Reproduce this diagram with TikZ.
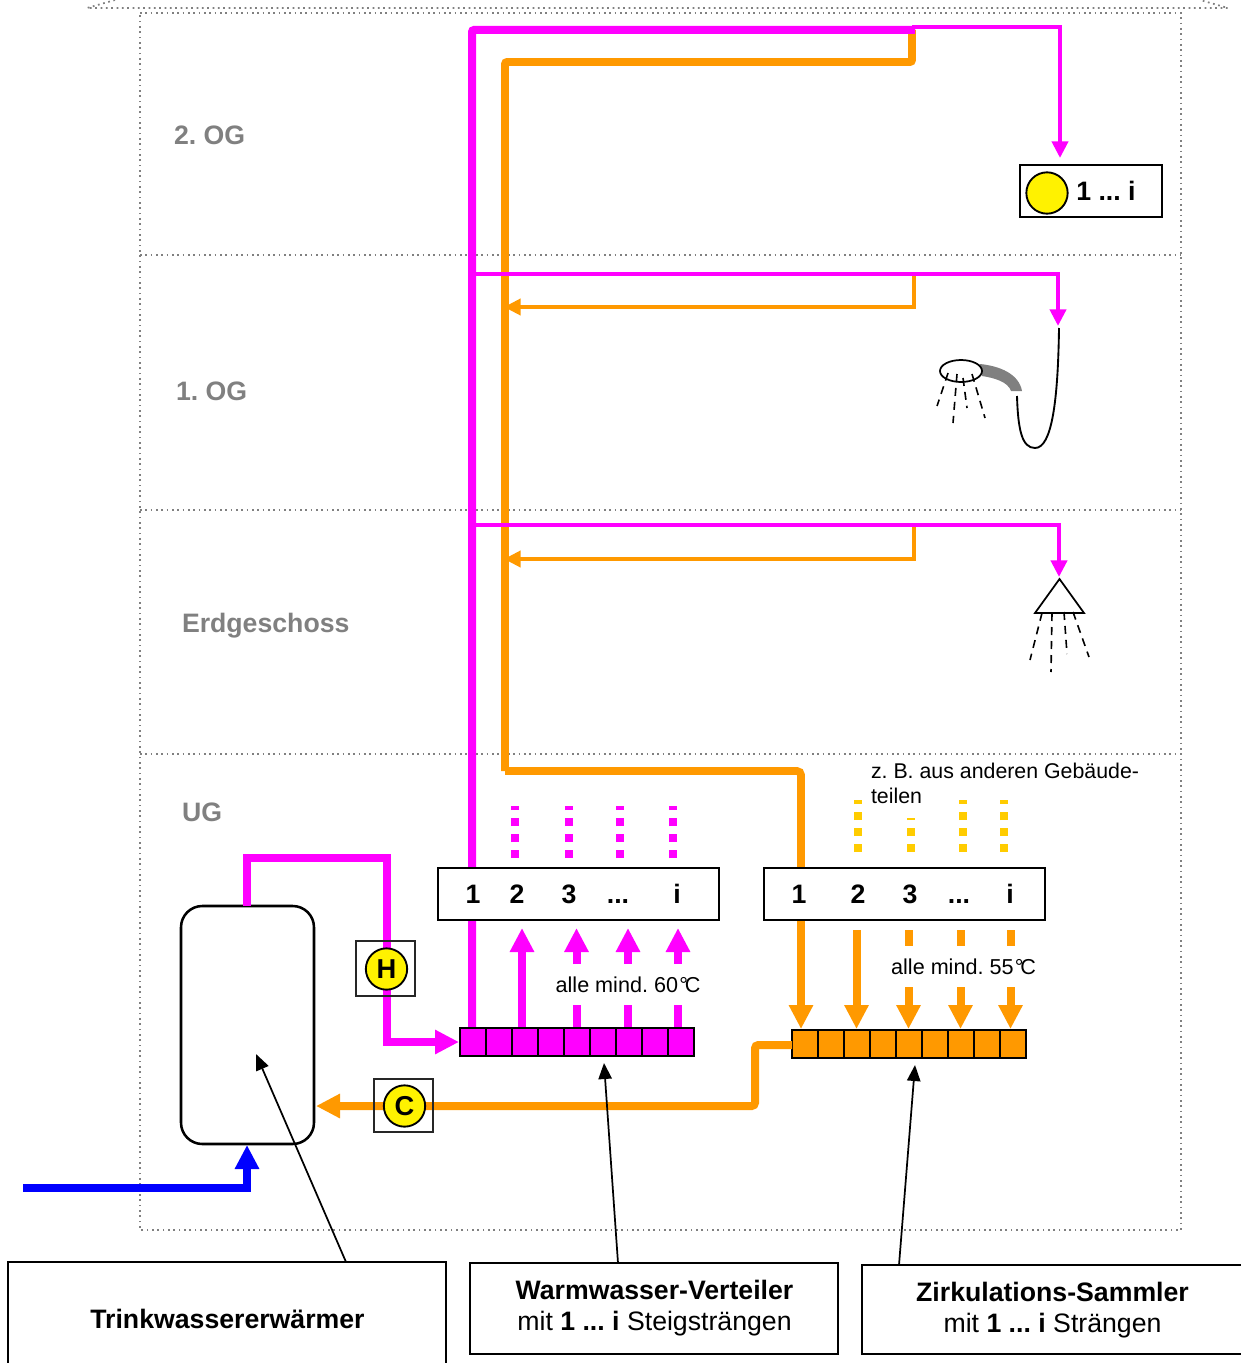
\documentclass[tikz,border=0pt]{standalone}
\usepackage{fontspec}
\setmainfont{Liberation Sans}
\usetikzlibrary{arrows.meta,shapes.geometric}
\definecolor{pipeM}{HTML}{FF00FF}
\definecolor{pipeO}{HTML}{FF9900}
\definecolor{pipeY}{HTML}{FFCC00}
\definecolor{pipeB}{HTML}{0000FF}
\definecolor{floorG}{HTML}{808080}
\frenchspacing
\newcommand{\pxbox}[6]{%
  \pgfmathsetmacro\bw{(#4-#2)*0.75}\pgfmathsetmacro\bh{(#5-#3)*0.75}%
  \pgfmathsetmacro\cx{(#2+#4)/2}\pgfmathsetmacro\cy{(#3+#5)/2}%
  \node[#6,minimum width=\bw pt,minimum height=\bh pt] (#1) at (\cx,\cy) {};}
\newcommand{\threedots}{...}
\tikzset{
  x=0.75pt,y=-0.75pt,
  every node/.style={inner sep=0pt,outer sep=0pt},
  floorline/.style={floorG,line width=1.3pt,dash pattern=on 1.3pt off 2.7pt},
  thickM/.style={pipeM,line width=6pt},
  thickO/.style={pipeO,line width=5.8pt},
  thinM/.style={pipeM,line width=3pt},
  thinO/.style={pipeO,line width=3pt},
  midM/.style={pipeM,line width=6pt},
  midO/.style={pipeO,line width=6pt},
  midB/.style={pipeB,line width=6pt},
  headBig/.style={-{Triangle[length=18pt,width=17.25pt]}},
  headSmall/.style={-{Triangle[length=12.5pt,width=12pt]}},
  dotsM/.style={pipeM,line width=6pt,dash pattern=on 6pt off 6pt},
  dotsY/.style={pipeY,line width=6pt,dash pattern=on 6pt off 6pt},
  frame/.style={draw=black,line width=1.5pt,fill=white,rectangle},
  openbox/.style={draw=black!85,line width=1.3pt,rectangle},
  cellM/.style={draw=black,line width=1.7pt,fill=pipeM,rectangle},
  cellO/.style={draw=black,line width=1.7pt,fill=pipeO,rectangle},
  lamp/.style={circle,draw=black,line width=1.4pt,fill=yellow,minimum size=31pt},
  tank/.style={draw=black,line width=1.9pt,rectangle,rounded corners=16pt},
  pointer/.style={draw=black,line width=1.3pt,-{Triangle[length=12pt,width=10pt]}},
  spray/.style={line width=1.2pt,dash pattern=on 6pt off 4.5pt},
  fixture/.style={draw=black,line width=1.3pt},
  storey/.style={font=\fontsize{20pt}{24pt}\selectfont\bfseries,text=floorG,anchor=base west},
  num/.style={font=\fontsize{20pt}{24pt}\selectfont\bfseries,anchor=base},
  lampfont/.style={font=\fontsize{20.5pt}{24pt}\selectfont\bfseries},
  note/.style={font=\fontsize{16pt}{19pt}\selectfont},
  notew/.style={font=\fontsize{16.2pt}{19pt}\selectfont,fill=white,minimum height=31pt},
  captxt/.style={font=\fontsize{20pt}{24pt}\selectfont,anchor=base},
  capbold/.style={font=\fontsize{20pt}{24pt}\selectfont\bfseries,anchor=base},
}
\begin{document}
\begin{tikzpicture}
\useasboundingbox (0,0) rectangle (1241,1363);
% building outline
\coordinate (roofL0) at (115,0); \coordinate (roofL) at (87,8);
\coordinate (roofR) at (1228,8); \coordinate (roofR0) at (1200,0);
\draw[floorline] (roofL0) -- (roofL) -- (roofR) -- (roofR0);
\coordinate (bTL) at (140,13); \coordinate (bTR) at (1181,13);
\coordinate (bBL) at (140,1230); \coordinate (bBR) at (1181,1230);
\draw[floorline] (bTL) -- (bTR) -- (bBR) -- (bBL) -- cycle;
\foreach \n/\y in {a/255,b/510,c/754}{
  \coordinate (fl\n) at (140,\y); \coordinate (fr\n) at (1181,\y);
  \draw[floorline] (fl\n) -- (fr\n);
}
\node[storey] (og2) at (174,144.5) {2. OG};
\node[storey] (og1) at (176,400.5) {1. OG};
\node[storey] (eg) at (182,632.5) {Erdgeschoss};
\node[storey] (ug) at (182,821.5) {UG};

% main anchors
\coordinate (mTop) at (472,30); \coordinate (mJ) at (915,30);
\coordinate (mBot) at (472,1028);
\coordinate (oTop) at (505,62); \coordinate (oJ) at (912,62);
\coordinate (oJup) at (912,30);
\coordinate (oLow) at (505,771); \coordinate (oR) at (801,771);
\coordinate (oBot) at (801,1029);
% storey branches
\coordinate (t2a) at (912,27.5); \coordinate (t2b) at (1060,27.5); \coordinate (t2c) at (1060,158);
\coordinate (t1a) at (472,273.5); \coordinate (t1b) at (1058,273.5); \coordinate (t1c) at (1058,326);
\coordinate (r1a) at (914,273); \coordinate (r1b) at (914,307); \coordinate (r1c) at (504,307);
\coordinate (t0a) at (472,525); \coordinate (t0b) at (1059,525); \coordinate (t0c) at (1059,577);
\coordinate (r0a) at (914,525); \coordinate (r0b) at (914,559); \coordinate (r0c) at (504,559);

\draw[thickO,rounded corners=1.5pt] (oJup) -- (oJ) -- (oTop) -- (oLow);
\draw[thinO,headSmall] (r1a) -- (r1b) -- (r1c);
\draw[thinO,headSmall] (r0a) -- (r0b) -- (r0c);
\draw[thinM,headSmall] (t2a) -- (t2b) -- (t2c);
\draw[thinM,headSmall] (t1a) -- (t1b) -- (t1c);
\draw[thinM,headSmall] (t0a) -- (t0b) -- (t0c);
\draw[thickM,rounded corners=1.5pt] (mBot) -- (mTop) -- (mJ);
\draw[thickO,rounded corners=3pt] (oLow) -- (oR) -- (801,1005);
\draw[midO,headBig] (801,1000) -- (oBot);

% dotted risers
\foreach \n/\x in {a/514.5,b/568.5,c/620,d/672.5}{
  \coordinate (dm\n s) at (\x,858); \coordinate (dm\n e) at (\x,806);
  \draw[dotsM] (dm\n s) -- (dm\n e);
}
\foreach \n/\x/\e in {a/858/800,b/910.5/818,c/962.5/800,d/1004/800}{
  \coordinate (dy\n s) at (\x,852); \coordinate (dy\n e) at (\x,\e);
  \draw[dotsY] (dy\n s) -- (dy\n e);
}
% arrows between bar and box
\foreach \n/\x in {a/522,b/576.5,c/628,d/678}{
  \coordinate (am\n s) at (\x,1028); \coordinate (am\n e) at (\x,928);
  \draw[midM,headBig] (am\n s) -- (am\n e);
}
\foreach \n/\x in {a/856.5,b/908.5,c/960.5,d/1010.5}{
  \coordinate (ao\n s) at (\x,930); \coordinate (ao\n e) at (\x,1029);
  \draw[midO,headBig] (ao\n s) -- (ao\n e);
}
\node[notew,anchor=center] (t60) at (628,984.5) {alle mind. 60\kern1pt°\kern-2.5pt C};
\node[notew,anchor=center] (t55) at (963.5,966.5) {alle mind. 55\kern1pt°\kern-2.5pt C};

% boxes with numbers
\pxbox{boxM}{438}{868}{719}{920}{frame}
\pxbox{boxO}{764}{868}{1045}{920}{frame}
\foreach \n/\x/\t in {a/473/1,b/517/2,c/569/3,d/618/\threedots,e/677/i}{
  \node[num] (nm\n) at (\x,903.5) {\t};
}
\foreach \n/\x/\t in {a/799/1,b/858/2,c/910/3,d/959/\threedots,e/1010/i}{
  \node[num] (no\n) at (\x,903.5) {\t};
}
% manifolds
\foreach \i in {0,...,8}{
  \pgfmathsetmacro\xa{460+26*\i}\pgfmathsetmacro\xb{\xa+26}
  \pxbox{cm\i}{\xa}{1028}{\xb}{1056}{cellM}
  \pgfmathsetmacro\xc{792+26*\i}\pgfmathsetmacro\xd{\xc+26}
  \pxbox{co\i}{\xc}{1030}{\xd}{1058}{cellO}
}
% tank
\pxbox{store}{181}{906}{314}{1144}{tank}
% hot flow to distributor
\coordinate (h1) at (247,858); \coordinate (h2) at (387,858); \coordinate (h3) at (387,1042);
\coordinate (hs) at (247,906); \coordinate (he) at (459,1042);
\draw[midM,headBig] (hs) -- (h1) -- (h2) -- (h3) -- (he);
% circulation return
\coordinate (c1) at (755,1045); \coordinate (c2) at (755,1106); \coordinate (ce) at (316,1106);
\coordinate (cs) at (792,1045);
\draw[midO,headBig,rounded corners=2.5pt] (cs) -- (c1) -- (c2) -- (ce);
% cold water
\coordinate (b0) at (23,1188); \coordinate (b1) at (247,1188); \coordinate (b2) at (247,1145);
\draw[midB,headBig] (b0) -- (b1) -- (b2);
% pumps
\pxbox{boxH}{356}{941}{415}{996}{openbox}
\pxbox{boxC}{374}{1079}{433}{1132}{openbox}
\node[lamp,lampfont] (pumpH) at (386.5,969) {H};
\node[lamp,lampfont] (pumpC) at (404.5,1106) {C};
% tap
\pxbox{boxTap}{1020}{165}{1162}{217}{frame}
\node[lamp] (tapC) at (1047,193) {};
\node[num] (tapT) at (1106,200.5) {1 ... i};

% hand shower
\fill[floorG] (980,364) .. controls (1000,366) and (1019,374) .. (1022,391) -- (1011,391) .. controls (1008,382) and (995,378) .. (982,376) -- cycle;
\node[fixture,ellipse,minimum width=31.5pt,minimum height=16.5pt] (head1) at (961,371) {};
\coordinate (hoseA) at (1059,328); \coordinate (hoseB) at (1035,448); \coordinate (hoseC) at (1017,396);
\draw[black,line width=1.4pt] (hoseA) .. controls (1058,400) and (1052,448) .. (hoseB) .. controls (1022,448) and (1018,430) .. (hoseC);
\draw[spray] (948,373) -- (937,406);
\draw[spray] (957,374) -- (953,423);
\draw[spray] (963,378) -- (967,408);
\draw[spray] (972,374) -- (985,418);
% cone shower
\draw[fixture] (1059.5,579) -- (1084,613) -- (1035,613) -- cycle;
\draw[spray] (1042,613) -- (1030,660);
\draw[spray] (1052,613) -- (1051,672);
\draw[spray] (1064,612) -- (1067,654);
\draw[spray] (1073,612) -- (1089,657);

% note
\node[note,anchor=west] (noteA) at (871,771) {z. B. aus anderen Gebäude-};
\node[note,anchor=west] (noteB) at (871,796) {teilen};

% captions
\pxbox{capA}{8}{1262}{446}{1380}{frame}
\pxbox{capB}{470}{1263}{838}{1354}{frame}
\pxbox{capC}{862}{1265}{1260}{1354}{frame}
\node[capbold] (capAt) at (227.5,1328) {Trinkwassererwärmer};
\node[capbold] (capBt) at (654.5,1299) {Warmwasser-Verteiler};
\node[captxt] (capBs) at (654.5,1330) {mit \textbf{1 ... i} Steigsträngen};
\node[capbold] (capCt) at (1052.5,1301) {Zirkulations-Sammler};
\node[captxt] (capCs) at (1052.5,1332) {mit \textbf{1 ... i} Strängen};
% pointers
\coordinate (pA) at (256,1054); \coordinate (pB) at (604,1063); \coordinate (pC) at (915,1065);
\coordinate (qA) at (346,1262); \coordinate (qB) at (618,1263); \coordinate (qC) at (899,1265);
\draw[pointer] (qA) -- (pA);
\draw[pointer] (qB) -- (pB);
\draw[pointer] (qC) -- (pC);
\end{tikzpicture}
\end{document}
